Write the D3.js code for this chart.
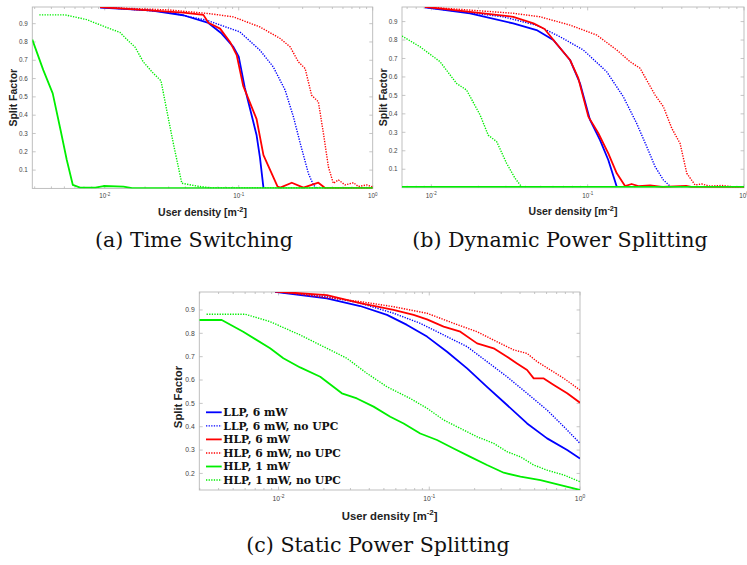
<!DOCTYPE html>
<html>
<head>
<meta charset="utf-8">
<script src="https://cdn.jsdelivr.net/npm/d3@7"></script>
<style>
  html, body { margin: 0; padding: 0; background: #fff; }
  svg { display: block; }
</style>
</head>
<body>
<div id="chart"></div>
<script>
// ---- data: [user density, split factor] ----
// (a) Time Switching
const tsLlp = [[0.00923,0.988],[0.0219,0.973],[0.0386,0.946],[0.0594,0.904],[0.0746,0.846],[0.0912,0.773],[0.1,0.72],[0.111,0.55],[0.122,0.43],[0.136,0.29],[0.144,0.17],[0.153,0.003]];
const tsLlpNoUpc = [[0.00923,0.99],[0.029,0.964],[0.0575,0.919],[0.102,0.855],[0.144,0.755],[0.181,0.664],[0.222,0.537],[0.256,0.391],[0.288,0.246],[0.331,0.082],[0.361,0.019],[0.38,0.002]];
const tsHlp = [[0.00923,0.99],[0.0386,0.96],[0.0545,0.948],[0.0594,0.905],[0.0726,0.873],[0.0861,0.8],[0.0966,0.728],[0.108,0.56],[0.136,0.378],[0.153,0.182],[0.195,0.01],[0.204,0.004],[0.249,0.031],[0.304,0.004],[0.393,0.031],[0.441,0.002],[1,0.002]];
const tsHlpNoUpc = [[0.00923,0.99],[0.03,0.975],[0.06,0.955],[0.0912,0.937],[0.144,0.882],[0.204,0.819],[0.242,0.773],[0.279,0.691],[0.313,0.655],[0.35,0.509],[0.393,0.473],[0.429,0.3],[0.467,0.118],[0.508,0.028],[0.555,0.046],[0.622,0.019],[0.718,0.031],[0.782,0.01],[0.902,0.019],[1,0.008]];
const tsHlp1 = [[0.00288,0.813],[0.00348,0.646],[0.00409,0.519],[0.00468,0.319],[0.00521,0.155],[0.00578,0.019],[0.00655,0.004],[0.0085,0.004],[0.0098,0.013],[0.0138,0.01],[0.016,0.002],[1,0.002]];
const tsHlp1NoUpc = [[0.00325,0.948],[0.00506,0.948],[0.00735,0.922],[0.00977,0.886],[0.013,0.852],[0.015,0.806],[0.0168,0.773],[0.0194,0.691],[0.0231,0.628],[0.0263,0.588],[0.029,0.428],[0.0325,0.246],[0.0376,0.028],[0.0486,0.013],[0.0617,0.003],[1,0.002]];

// (b) Dynamic Power Splitting
const dpsLlp = [[0.0091,0.977],[0.01766,0.945],[0.0334,0.89],[0.0471,0.854],[0.0603,0.8],[0.0771,0.692],[0.0893,0.566],[0.1035,0.367],[0.12,0.258],[0.1355,0.15],[0.1535,0.005]];
const dpsLlpNoUpc = [[0.0091,0.977],[0.0288,0.926],[0.0471,0.88],[0.0665,0.818],[0.0938,0.746],[0.1324,0.628],[0.169,0.493],[0.2056,0.349],[0.2388,0.222],[0.27,0.114],[0.305,0.042],[0.34,0.005]];
const dpsHlp = [[0.0091,0.98],[0.0334,0.926],[0.045,0.89],[0.053,0.86],[0.0617,0.791],[0.0771,0.692],[0.0871,0.593],[0.101,0.385],[0.117,0.295],[0.1355,0.186],[0.1535,0.078],[0.1734,0.009],[0.191,0.02],[0.211,0.009],[0.251,0.012],[0.3,0.005],[0.4266,0.01],[0.46,0.005],[1,0.005]];
const dpsHlpNoUpc = [[0.0091,0.98],[0.0334,0.945],[0.0495,0.926],[0.0771,0.881],[0.1143,0.827],[0.1535,0.746],[0.1866,0.683],[0.2163,0.647],[0.27,0.502],[0.305,0.439],[0.345,0.322],[0.39,0.24],[0.4305,0.078],[0.486,0.015],[0.537,0.02],[0.6,0.009],[0.724,0.012],[0.85,0.005],[1,0.005]];
const dpsHlp1 = [[0.00649,0.005],[1,0.005]];
const dpsHlp1NoUpc = [[0.00649,0.822],[0.00845,0.764],[0.01135,0.683],[0.0145,0.565],[0.0168,0.529],[0.0205,0.394],[0.0231,0.285],[0.0262,0.249],[0.0303,0.132],[0.0343,0.051],[0.0378,0.005]];

// (c) Static Power Splitting
const spsLlp = [[0.00948,0.978],[0.0209,0.95],[0.0348,0.917],[0.0524,0.879],[0.0711,0.836],[0.0966,0.786],[0.1312,0.721],[0.1782,0.65],[0.2415,0.571],[0.328,0.493],[0.4457,0.414],[0.605,0.35],[0.822,0.3],[1,0.264]];
const spsLlpNoUpc = [[0.00948,0.978],[0.0209,0.957],[0.0348,0.929],[0.0579,0.886],[0.0871,0.843],[0.1245,0.793],[0.1782,0.743],[0.2415,0.679],[0.328,0.614],[0.4457,0.543],[0.605,0.471],[0.782,0.4],[1,0.329]];
const spsHlp = [[0.00948,0.979],[0.0209,0.964],[0.0348,0.929],[0.0579,0.9],[0.0787,0.879],[0.0966,0.86],[0.1245,0.829],[0.1607,0.807],[0.2075,0.757],[0.2673,0.736],[0.328,0.7],[0.382,0.671],[0.4457,0.643],[0.493,0.607],[0.575,0.607],[0.67,0.579],[0.822,0.543],[1,0.503]];
const spsHlpNoUpc = [[0.00948,0.98],[0.0348,0.936],[0.0579,0.914],[0.0966,0.886],[0.145,0.843],[0.2075,0.807],[0.2673,0.771],[0.363,0.729],[0.4457,0.714],[0.5188,0.679],[0.637,0.643],[0.782,0.607],[1,0.557]];
const spsHlp1 = [[0.00298,0.857],[0.0042,0.857],[0.00583,0.807],[0.00879,0.736],[0.01076,0.693],[0.0139,0.654],[0.0189,0.614],[0.0231,0.571],[0.0263,0.543],[0.0331,0.521],[0.0427,0.486],[0.0551,0.443],[0.0676,0.414],[0.0871,0.371],[0.1125,0.343],[0.145,0.307],[0.1875,0.271],[0.2415,0.236],[0.312,0.203],[0.4027,0.186],[0.547,0.171],[0.743,0.15],[1,0.129]];
const spsHlp1NoUpc = [[0.00333,0.882],[0.006,0.882],[0.00879,0.85],[0.0139,0.793],[0.0209,0.736],[0.0284,0.693],[0.0385,0.629],[0.0524,0.571],[0.0748,0.521],[0.0966,0.479],[0.1245,0.429],[0.1607,0.393],[0.2075,0.357],[0.2673,0.329],[0.328,0.293],[0.4027,0.271],[0.493,0.236],[0.605,0.214],[0.782,0.193],[1,0.164]];

const seriesNames = ["LLP, 6 mW", "LLP, 6 mW, no UPC", "HLP, 6 mW", "HLP, 6 mW, no UPC", "HLP, 1 mW", "HLP, 1 mW, no UPC"];
const captions = ["(a) Time Switching", "(b) Dynamic Power Splitting", "(c) Static Power Splitting"];
const yTicksTop = [0.1, 0.2, 0.3, 0.4, 0.5, 0.6, 0.7, 0.8, 0.9];
const yTicksBottom = [0.2, 0.3, 0.4, 0.5, 0.6, 0.7, 0.8, 0.9];

// ---- styles ----
const seriesStyle = [
    { color: "#0000ff", dash: null },
    { color: "#0000ff", dash: "1.3,1.3" },
    { color: "#ff0000", dash: null },
    { color: "#ff0000", dash: "1.3,1.3" },
    { color: "#00ee00", dash: null },
    { color: "#00ee00", dash: "1.3,1.3" }
];
const frameColor = "#b8b8b8";
const tickTextColor = "#444";
const sansFont = "'Liberation Sans', Arial, Helvetica, sans-serif";
const serifFont = "'DejaVu Serif', serif";

const width = 747, height = 565;
const svg = d3.select("#chart").append("svg")
    .attr("width", width).attr("height", height)
    .attr("viewBox", `0 0 ${width} ${height}`);

const panels = [
    { id: "a", l: 32.3, r: 372.7, t: 7, b: 188.4, xMin: 0.00288, yDomain: [0, 0.991], yTicks: yTicksTop,
      series: [tsLlp, tsLlpNoUpc, tsHlp, tsHlpNoUpc, tsHlp1, tsHlp1NoUpc], caption: captions[0],
      capX: 194, capY: 247, scale: 1, yLabelX: 13, legend: false },
    { id: "b", l: 402, r: 744, t: 7, b: 187.7, xMin: 0.00649, yDomain: [0, 0.979], yTicks: yTicksTop,
      series: [dpsLlp, dpsLlpNoUpc, dpsHlp, dpsHlpNoUpc, dpsHlp1, dpsHlp1NoUpc], caption: captions[1],
      capX: 560, capY: 247, scale: 1, yLabelX: 383.5, legend: false },
    { id: "c", l: 199.3, r: 580, t: 292, b: 490, xMin: 0.00298, yDomain: [0.129, 0.977], yTicks: yTicksBottom,
      series: [spsLlp, spsLlpNoUpc, spsHlp, spsHlpNoUpc, spsHlp1, spsHlp1NoUpc], caption: captions[2],
      capX: 378, capY: 552, scale: 1.08, yLabelX: 178.5, legend: true }
];

panels.forEach(p => {
    const x = d3.scaleLog().domain([p.xMin, 1]).range([p.l, p.r]);
    const y = d3.scaleLinear().domain(p.yDomain).range([p.b, p.t]);
    const g = svg.append("g").attr("class", "panel-" + p.id);
    const tickFont = 6.3 * p.scale;
    const labelFont = 10.5 * p.scale;

    // clip
    svg.append("clipPath").attr("id", "clip-" + p.id)
        .append("rect").attr("x", p.l).attr("y", p.t)
        .attr("width", p.r - p.l).attr("height", p.b - p.t);

    // frame
    g.append("rect").attr("x", p.l).attr("y", p.t)
        .attr("width", p.r - p.l).attr("height", p.b - p.t)
        .attr("fill", "none").attr("stroke", frameColor).attr("stroke-width", 0.9);

    // x ticks (log, with minor)
    const isMajor = v => Math.abs(Math.log10(v) - Math.round(Math.log10(v))) < 1e-9;
    const xt = x.ticks();
    xt.forEach(v => {
        const px = x(v);
        const len = isMajor(v) ? 3.4 : 2;
        g.append("line").attr("x1", px).attr("x2", px).attr("y1", p.b).attr("y2", p.b - len)
            .attr("stroke", frameColor).attr("stroke-width", 0.8);
        g.append("line").attr("x1", px).attr("x2", px).attr("y1", p.t).attr("y2", p.t + len)
            .attr("stroke", frameColor).attr("stroke-width", 0.8);
    });
    xt.filter(isMajor).forEach(v => {
        const t = g.append("text")
            .attr("x", x(v)).attr("y", p.b + 10 * p.scale)
            .attr("text-anchor", "middle")
            .style("font-family", sansFont).style("font-size", tickFont + "px")
            .attr("fill", tickTextColor);
        t.append("tspan").text("10");
        t.append("tspan").attr("dy", -2.6 * p.scale).style("font-size", (tickFont * 0.72) + "px")
            .text(String(Math.round(Math.log10(v))));
    });

    // y ticks
    p.yTicks.forEach(v => {
        const py = y(v);
        g.append("line").attr("x1", p.l).attr("x2", p.l + 3.4).attr("y1", py).attr("y2", py)
            .attr("stroke", frameColor).attr("stroke-width", 0.8);
        g.append("line").attr("x1", p.r).attr("x2", p.r - 3.4).attr("y1", py).attr("y2", py)
            .attr("stroke", frameColor).attr("stroke-width", 0.8);
        g.append("text").attr("x", p.l - 4.6).attr("y", py).attr("dy", "0.35em")
            .attr("text-anchor", "end")
            .style("font-family", sansFont).style("font-size", tickFont + "px")
            .attr("fill", tickTextColor).text(d3.format(".1f")(v));
    });

    // series
    const line = d3.line().x(d => x(d[0])).y(d => y(d[1]));
    const lines = g.append("g").attr("clip-path", `url(#clip-${p.id})`);
    p.series.forEach((data, i) => {
        const st = seriesStyle[i];
        lines.append("path").datum(data)
            .attr("d", line).attr("fill", "none")
            .attr("stroke", st.color)
            .attr("stroke-width", st.dash ? 1.4 : 1.8)
            .attr("stroke-dasharray", st.dash)
            .attr("stroke-linejoin", "round");
    });

    // axis labels
    const xl = g.append("text")
        .attr("x", (p.l + p.r) / 2).attr("y", p.b + 27.5 * p.scale)
        .attr("text-anchor", "middle")
        .style("font-family", sansFont).style("font-size", labelFont + "px")
        .style("font-weight", "bold").attr("fill", "#222");
    xl.append("tspan").text("User density [m");
    xl.append("tspan").attr("dy", -4 * p.scale).style("font-size", (labelFont * 0.7) + "px").text("-2");
    xl.append("tspan").attr("dy", 4 * p.scale).text("]");

    g.append("text")
        .attr("transform", `translate(${p.yLabelX}, ${(p.t + p.b) / 2 + (p.legend ? 6 : 0)}) rotate(-90)`)
        .attr("dy", "0.35em").attr("text-anchor", "middle")
        .style("font-family", sansFont).style("font-size", labelFont + "px")
        .style("font-weight", "bold").attr("fill", "#222")
        .text("Split Factor");

    // caption
    g.append("text")
        .attr("x", p.capX).attr("y", p.capY)
        .attr("text-anchor", "middle")
        .style("font-family", serifFont).style("font-size", "20.6px")
        .attr("fill", "#111").text(p.caption);

    // legend (panel c only)
    if (p.legend) {
        const lg = g.append("g");
        seriesNames.forEach((name, i) => {
            const ly = 412.3 + i * 13.55;
            const st = seriesStyle[i];
            lg.append("line").attr("x1", 206).attr("x2", 221.7).attr("y1", ly).attr("y2", ly)
                .attr("stroke", st.color).attr("stroke-width", st.dash ? 1.4 : 1.8)
                .attr("stroke-dasharray", st.dash);
            lg.append("text").attr("x", 223.3).attr("y", ly).attr("dy", "0.36em")
                .style("font-family", serifFont).style("font-size", "10.8px")
                .style("font-weight", "bold").attr("fill", "#111")
                .text(name);
        });
    }
});
</script>
</body>
</html>
